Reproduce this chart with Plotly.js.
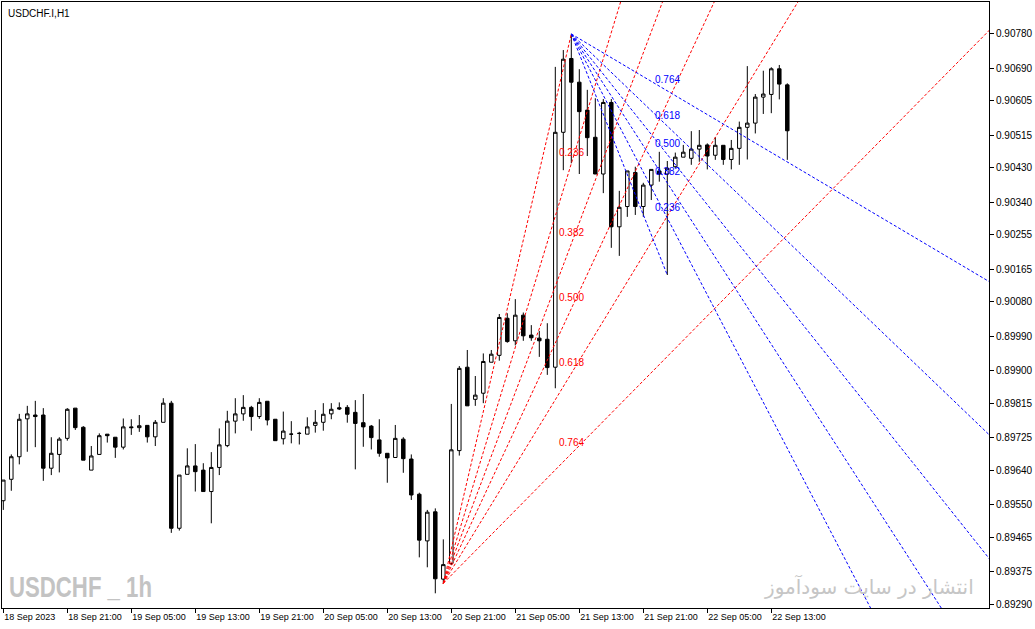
<!DOCTYPE html>
<html>
<head>
<meta charset="utf-8">
<script src="https://cdn.plot.ly/plotly-3.0.1.min.js"></script>
<style>
  html, body { margin: 0; padding: 0; background: #ffffff; }
  #chart { width: 1035px; height: 629px; }
</style>
</head>
<body>
<div id="chart"></div>
<script>
// ---- Candle times (H1 bars) ----
const times = [
  '2023-09-18 13:00','2023-09-18 14:00','2023-09-18 15:00','2023-09-18 16:00','2023-09-18 17:00','2023-09-18 18:00',
  '2023-09-18 19:00','2023-09-18 20:00','2023-09-18 21:00','2023-09-18 22:00','2023-09-18 23:00',
  '2023-09-19 00:00','2023-09-19 01:00','2023-09-19 02:00','2023-09-19 03:00','2023-09-19 04:00','2023-09-19 05:00',
  '2023-09-19 06:00','2023-09-19 07:00','2023-09-19 08:00','2023-09-19 09:00','2023-09-19 10:00','2023-09-19 11:00',
  '2023-09-19 12:00','2023-09-19 13:00','2023-09-19 14:00','2023-09-19 15:00','2023-09-19 16:00','2023-09-19 17:00',
  '2023-09-19 18:00','2023-09-19 19:00','2023-09-19 20:00','2023-09-19 21:00','2023-09-19 22:00','2023-09-19 23:00',
  '2023-09-20 00:00','2023-09-20 01:00','2023-09-20 02:00','2023-09-20 03:00','2023-09-20 04:00','2023-09-20 05:00',
  '2023-09-20 06:00','2023-09-20 07:00','2023-09-20 08:00','2023-09-20 09:00','2023-09-20 10:00','2023-09-20 11:00',
  '2023-09-20 12:00','2023-09-20 13:00','2023-09-20 14:00','2023-09-20 15:00','2023-09-20 16:00','2023-09-20 17:00',
  '2023-09-20 18:00','2023-09-20 19:00','2023-09-20 20:00','2023-09-20 21:00','2023-09-20 22:00','2023-09-20 23:00',
  '2023-09-21 00:00','2023-09-21 01:00','2023-09-21 02:00','2023-09-21 03:00','2023-09-21 04:00','2023-09-21 05:00',
  '2023-09-21 06:00','2023-09-21 07:00','2023-09-21 08:00','2023-09-21 09:00','2023-09-21 10:00','2023-09-21 11:00',
  '2023-09-21 12:00','2023-09-21 13:00','2023-09-21 14:00','2023-09-21 15:00','2023-09-21 16:00','2023-09-21 17:00',
  '2023-09-21 18:00','2023-09-21 19:00','2023-09-21 20:00','2023-09-21 21:00','2023-09-21 22:00','2023-09-21 23:00',
  '2023-09-22 00:00','2023-09-22 01:00','2023-09-22 02:00','2023-09-22 03:00','2023-09-22 04:00','2023-09-22 05:00',
  '2023-09-22 06:00','2023-09-22 07:00','2023-09-22 08:00','2023-09-22 09:00','2023-09-22 10:00','2023-09-22 11:00',
  '2023-09-22 12:00','2023-09-22 13:00','2023-09-22 14:00','2023-09-22 15:00'
];

// ---- OHLC series ----
const open = [
  0.89560,0.89616,0.89675,0.89774,0.89784,0.89784,0.89645,0.89681,0.89723,0.89802,0.89752,
  0.89640,0.89681,0.89734,0.89726,0.89700,0.89753,0.89751,0.89757,0.89727,0.89765,0.89815,0.89488,
  0.89629,0.89651,0.89640,0.89584,0.89647,0.89704,0.89768,0.89787,0.89804,0.89780,0.89820,0.89773,
  0.89722,0.89734,0.89736,0.89734,0.89757,0.89765,0.89787,0.89803,0.89804,0.89791,0.89764,0.89755,
  0.89719,0.89684,0.89673,0.89721,0.89669,0.89577,0.89455,0.89531,0.89355,0.89396,0.89691,0.89909,
  0.89825,0.89841,0.89922,0.89940,0.90037,0.89978,0.90045,0.89993,0.89985,0.89982,0.89909,0.90523,
  0.90716,0.90654,0.90581,0.90510,0.90414,0.90601,0.90276,0.90329,0.90418,0.90329,0.90385,0.90422,
  0.90414,0.90433,0.90458,0.90455,0.90479,0.90490,0.90463,0.90489,0.90452,0.90481,0.90536,0.90547,
  0.90615,0.90622,0.90689,0.90647
];
const high = [
  0.89614,0.89681,0.89787,0.89808,0.89821,0.89802,0.89726,0.89726,0.89802,0.89802,0.89755,
  0.89703,0.89736,0.89734,0.89726,0.89775,0.89773,0.89784,0.89757,0.89771,0.89828,0.89821,0.89627,
  0.89697,0.89708,0.89658,0.89687,0.89749,0.89795,0.89828,0.89836,0.89808,0.89828,0.89820,0.89773,
  0.89793,0.89768,0.89740,0.89778,0.89797,0.89815,0.89815,0.89817,0.89810,0.89823,0.89839,0.89758,
  0.89773,0.89684,0.89758,0.89726,0.89681,0.89581,0.89536,0.89540,0.89459,0.89813,0.89912,0.89954,
  0.89886,0.89945,0.89954,0.90048,0.90050,0.90087,0.90052,0.90019,0.90004,0.90024,0.90694,0.90738,
  0.90780,0.90688,0.90634,0.90612,0.90610,0.90610,0.90370,0.90422,0.90433,0.90391,0.90426,0.90472,
  0.90448,0.90470,0.90490,0.90526,0.90529,0.90494,0.90510,0.90489,0.90503,0.90551,0.90696,0.90623,
  0.90684,0.90693,0.90699,0.90651
];
const low = [
  0.89536,0.89586,0.89655,0.89688,0.89700,0.89612,0.89627,0.89634,0.89717,0.89745,0.89666,
  0.89640,0.89681,0.89712,0.89672,0.89694,0.89732,0.89740,0.89712,0.89703,0.89765,0.89476,0.89482,
  0.89629,0.89584,0.89584,0.89501,0.89627,0.89700,0.89736,0.89769,0.89743,0.89774,0.89757,0.89717,
  0.89707,0.89710,0.89707,0.89734,0.89738,0.89743,0.89773,0.89797,0.89764,0.89642,0.89701,0.89694,
  0.89675,0.89607,0.89673,0.89633,0.89562,0.89412,0.89386,0.89318,0.89344,0.89392,0.89678,0.89808,
  0.89808,0.89815,0.89922,0.89926,0.89973,0.89966,0.89978,0.89978,0.89936,0.89889,0.89854,0.90424,
  0.90442,0.90414,0.90461,0.90414,0.90364,0.90221,0.90200,0.90302,0.90307,0.90302,0.90346,0.90394,
  0.90150,0.90429,0.90458,0.90438,0.90446,0.90426,0.90451,0.90438,0.90426,0.90438,0.90452,0.90520,
  0.90571,0.90573,0.90609,0.90451
];
const close = [
  0.89614,0.89675,0.89773,0.89787,0.89780,0.89645,0.89684,0.89721,0.89799,0.89751,0.89666,
  0.89677,0.89730,0.89730,0.89700,0.89753,0.89751,0.89756,0.89727,0.89765,0.89815,0.89488,0.89627,
  0.89651,0.89636,0.89584,0.89647,0.89706,0.89768,0.89787,0.89804,0.89780,0.89817,0.89771,0.89717,
  0.89742,0.89734,0.89736,0.89753,0.89765,0.89786,0.89799,0.89800,0.89786,0.89762,0.89753,0.89725,
  0.89684,0.89672,0.89723,0.89670,0.89575,0.89457,0.89530,0.89356,0.89393,0.89693,0.89906,0.89808,
  0.89836,0.89924,0.89943,0.90039,0.89976,0.90045,0.89991,0.89986,0.89978,0.89908,0.90523,0.90714,
  0.90654,0.90577,0.90509,0.90414,0.90601,0.90276,0.90327,0.90422,0.90329,0.90385,0.90426,0.90414,
  0.90429,0.90458,0.90471,0.90479,0.90489,0.90461,0.90489,0.90452,0.90481,0.90536,0.90547,0.90615,
  0.90623,0.90689,0.90649,0.90527
];

// ---- Axis ticks ----
const xTickTimes = ['2023-09-18 13:00','2023-09-18 21:00','2023-09-19 05:00','2023-09-19 13:00','2023-09-19 21:00',
  '2023-09-20 05:00','2023-09-20 13:00','2023-09-20 21:00','2023-09-21 05:00','2023-09-21 13:00',
  '2023-09-21 21:00','2023-09-22 05:00','2023-09-22 13:00'];
const xTickLabels = ['18 Sep 2023','18 Sep 21:00','19 Sep 05:00','19 Sep 13:00','19 Sep 21:00',
  '20 Sep 05:00','20 Sep 13:00','20 Sep 21:00','21 Sep 05:00','21 Sep 13:00',
  '21 Sep 21:00','22 Sep 05:00','22 Sep 13:00'];
const yTickLabels = ['0.90780','0.90690','0.90605','0.90515','0.90430','0.90340','0.90255','0.90165',
  '0.90080','0.89990','0.89900','0.89815','0.89725','0.89640','0.89550','0.89465','0.89375','0.89290'];

// ---- Fibonacci fans (anchor points) ----
const fanLevels = [0.236, 0.382, 0.5, 0.618, 0.764];
const fanLevelLabels = ['0.236','0.382','0.500','0.618','0.764'];
const redFanTimes = ['2023-09-20 20:00','2023-09-21 12:00'];
const redFanPrices = [0.89344, 0.90780];
const blueFanTimes = ['2023-09-21 12:00','2023-09-22 00:00'];
const blueFanPrices = [0.90780, 0.90150];

// ---- View window ----
const xRange = ['2023-09-18 12:50:15','2023-09-23 16:12:45'];
const yRange = [0.892796, 0.908636];

function toMs(t) { return Date.parse(t.replace(' ', 'T') + (t.length === 16 ? ':00Z' : 'Z')); }

const traces = [{
  type: 'candlestick',
  x: times, open: open, high: high, low: low, close: close,
  increasing: { line: { color: '#000000', width: 1 }, fillcolor: '#ffffff' },
  decreasing: { line: { color: '#000000', width: 1 }, fillcolor: '#000000' },
  whiskerwidth: 0,
  hoverinfo: 'skip',
  showlegend: false
}];
const annotations = [];

function addFan(fTimes, fPrices, color) {
  const t1 = toMs(fTimes[0]), t2 = toMs(fTimes[1]);
  const p1 = fPrices[0], p2 = fPrices[1];
  const dash = '3px,2px';
  traces.push({ type: 'scatter', mode: 'lines', x: [t1, t2], y: [p1, p2],
    line: { color: color, width: 1, dash: dash }, hoverinfo: 'skip', showlegend: false });
  const ext = 14;
  fanLevels.forEach((lv, i) => {
    const pl = p2 + lv * (p1 - p2);
    traces.push({ type: 'scatter', mode: 'lines',
      x: [t1, t1 + ext * (t2 - t1)], y: [p1, p1 + ext * (pl - p1)],
      line: { color: color, width: 1, dash: dash }, hoverinfo: 'skip', showlegend: false });
    annotations.push({ x: t2, y: pl, xref: 'x', yref: 'y', text: fanLevelLabels[i], showarrow: false,
      yshift: 11, font: { family: 'Liberation Sans, Arial, sans-serif', size: 10, color: color } });
  });
}
addFan(redFanTimes, redFanPrices, '#ff0000');
addFan(blueFanTimes, blueFanPrices, '#0000ff');

annotations.push({ xref: 'paper', yref: 'paper', x: 0, y: 1, xshift: 4, yshift: -4,
  xanchor: 'left', yanchor: 'top', text: 'USDCHF.I,H1', showarrow: false,
  font: { family: 'Liberation Sans, Arial, sans-serif', size: 10, color: '#000000' } });
annotations.push({ xref: 'paper', yref: 'paper', x: 0, y: 0, xshift: 5, yshift: 3,
  xanchor: 'left', yanchor: 'bottom', text: '<b>USDCHF _ 1h</b>', showarrow: false,
  font: { family: 'Liberation Sans, Arial, sans-serif', size: 30, color: '#c3c3c3' } });
annotations.push({ xref: 'paper', yref: 'paper', x: 0.9838, y: 0, xshift: 3, yshift: 7,
  xanchor: 'right', yanchor: 'bottom', text: 'انتشار در سایت سودآموز', showarrow: false,
  font: { family: 'DejaVu Sans, sans-serif', size: 20, color: '#c6c6c6' } });

const layout = {
  width: 1035, height: 629,
  margin: { l: 2, r: 46, t: 2, b: 21, pad: 0 },
  paper_bgcolor: '#ffffff', plot_bgcolor: '#ffffff',
  font: { family: 'Liberation Sans, Arial, sans-serif', size: 10, color: '#000000' },
  showlegend: false,
  boxgap: 0.38,
  xaxis: {
    type: 'date', range: xRange, autorange: false,
    rangeslider: { visible: false },
    showgrid: false, zeroline: false,
    showline: true, mirror: true, linecolor: '#000000', linewidth: 1,
    ticks: 'outside', ticklen: 4, tickcolor: '#000000', tickwidth: 1,
    tickmode: 'array', tickvals: xTickTimes, ticktext: xTickLabels,
    ticklabelposition: 'outside right', tickangle: 0,
    tickfont: { size: 9, color: '#000000' }
  },
  yaxis: {
    side: 'right', range: yRange, autorange: false,
    showgrid: false, zeroline: false,
    showline: true, mirror: true, linecolor: '#000000', linewidth: 1,
    ticks: 'outside', ticklen: 4, tickcolor: '#000000', tickwidth: 1,
    tickmode: 'array', tickvals: yTickLabels.map(Number), ticktext: yTickLabels,
    tickfont: { size: 10, color: '#000000' }
  },
  annotations: annotations
};

Plotly.newPlot('chart', traces, layout, { staticPlot: true, displayModeBar: false }).then(function (gd) {
  // squeeze the bold watermark to the condensed width seen in the reference, keeping its left edge
  const texts = gd.querySelectorAll('.annotation-text');
  texts.forEach(function (el) {
    if (el.textContent === 'USDCHF _ 1h') {
      const b = el.getBBox();
      el.setAttribute('text-anchor', 'start');
      el.setAttribute('x', b.x);
      el.querySelectorAll('tspan[x]').forEach(function (ts) { ts.setAttribute('x', b.x); });
      el.setAttribute('textLength', '143');
      el.setAttribute('lengthAdjust', 'spacingAndGlyphs');
    }
  });
});
</script>
</body>
</html>
